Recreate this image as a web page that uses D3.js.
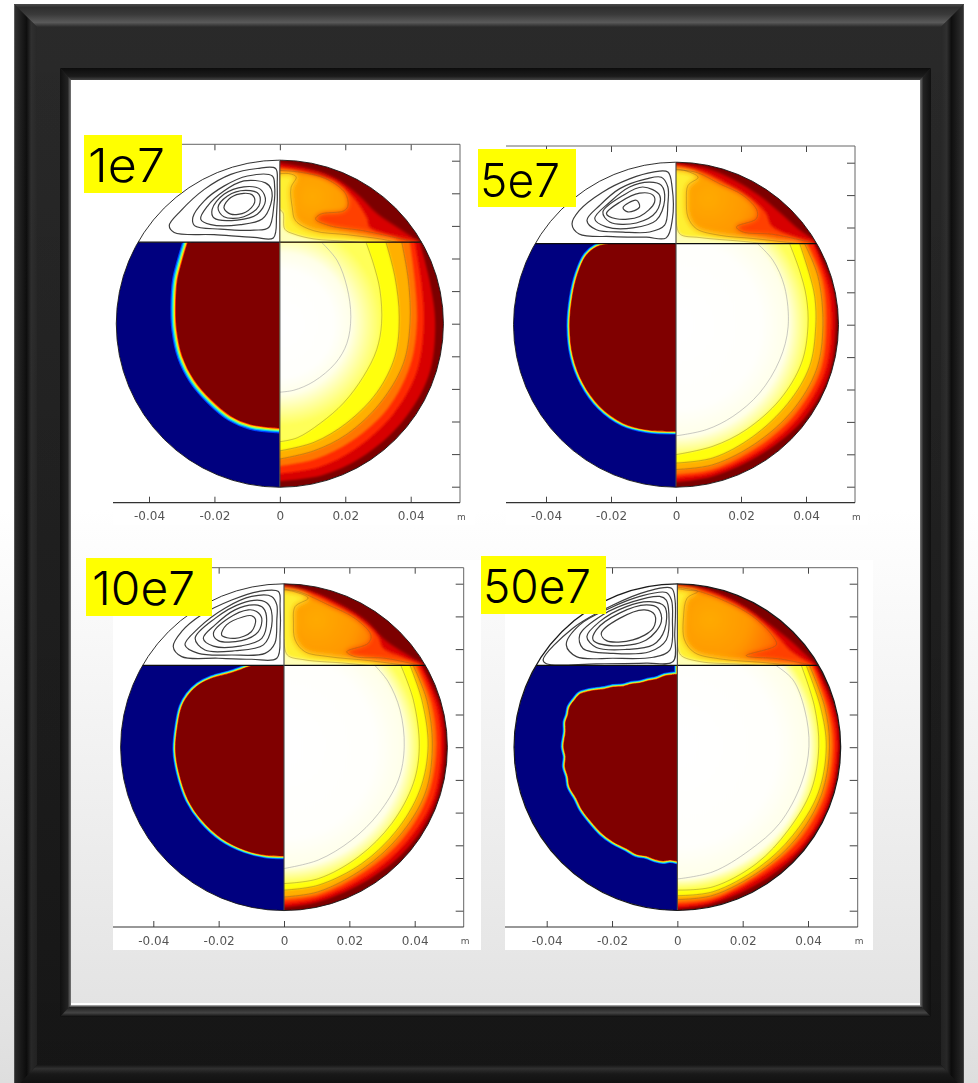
<!DOCTYPE html>
<html>
<head>
<meta charset="utf-8">
<script src="https://cdn.jsdelivr.net/npm/d3@7"></script>
<style>
html,body{margin:0;padding:0;background:#fff;overflow:hidden}
svg{display:block}
</style>
</head>
<body>
<script>
var panelNames = ["1e7","5e7","10e7","50e7"];
var xTicks = [-0.04,-0.02,0,0.02,0.04];
var xTickLabels = ["-0.04","-0.02","0","0.02","0.04"];
var yTicks = [-0.05,-0.04,-0.03,-0.02,-0.01,0,0.01,0.02,0.03,0.04,0.05];
var unitLabel = "m";

// melt front, left half
var front1e7 = [[-27.5,27],[-28.2,24.8],[-29.8,19.4],[-31.3,13.3],[-31.8,5.2],[-31.5,-1.9],[-29.8,-10],[-26.2,-17.2],[-21.1,-23.2],[-15,-28.3],[-8.9,-30.9],[0,-32]];
var front5e7 = [[-18,25.5],[-20.9,24.9],[-24.5,24],[-27.6,21.4],[-30.2,15.8],[-31.9,8.6],[-32.7,-0.6],[-31.7,-9.8],[-28.6,-18.1],[-23.5,-25.2],[-16.3,-30.4],[-9.1,-32.4],[0,-32.9]];
var front10e7 = [[-8,25.6],[-10.9,24.6],[-16,22.8],[-22.1,21.1],[-26.2,19],[-29.3,16],[-31.3,12.4],[-32.6,6.3],[-33.2,-0.9],[-32.1,-8],[-29.3,-16.2],[-25.2,-22.3],[-19.1,-27.9],[-11.9,-31.5],[-5.8,-33],[0,-33.3]];
var front50e7 = [[0,22.3],[-1.8,22.1],[-3.9,21.8],[-6.4,20.8],[-9,20.3],[-11.5,19.6],[-14.1,19.3],[-16.6,18.6],[-19.7,18.4],[-22.2,17.8],[-25.3,17.4],[-27.9,16.9],[-29.9,16.2],[-31.4,14.5],[-33,12.2],[-33.5,9.8],[-34.2,7.8],[-34.2,4.7],[-34.8,0.2],[-34.2,-2.9],[-34.4,-6],[-33.5,-9],[-33,-12.1],[-30.9,-15.7],[-29.4,-18.8],[-26.8,-22.3],[-23.3,-26.2],[-19.7,-28.9],[-15.6,-31],[-12.6,-32.7],[-9.5,-33.3],[-6.9,-34.3],[-4.4,-34.8],[-2.3,-34.5],[0,-34.9]];

// streamlines, upper left
var stream1e7 = [
 [[-1.3,47.6],[-6.9,47.6],[-15,45.8],[-23.1,41.2],[-30.3,34.6],[-33.8,30.1],[-32.3,28],[-20.1,27.3],[-7.9,26.5],[-2,26.3],[-1,33.6],[-0.8,42.7]],
 [[-2.3,45.3],[-9.9,45.3],[-17.1,42.2],[-23.1,37.7],[-26.6,32.6],[-26.1,30.1],[-18.1,29],[-7.9,28.7],[-3.4,29.5],[-1.8,36.6],[-1.6,42.2]],
 [[-4.4,43.2],[-11,43.8],[-17.1,40.7],[-22.1,36.1],[-24.2,32.1],[-21.1,30.4],[-12,30.4],[-5.4,32.1],[-2.8,36.6],[-2.6,41.2]],
 [[-11,42],[-17.1,39.7],[-20.7,35.1],[-20.1,32.4],[-13,31.8],[-6.9,33.6],[-4.4,37.7],[-5.9,41.2]],
 [[-10.5,40.9],[-16,39.2],[-18.9,35.6],[-17.1,32.8],[-11,32.8],[-6.4,36.1],[-6.4,39.7]],
 [[-11,40],[-15,38.7],[-17.1,35.6],[-15,33.6],[-10.5,34.2],[-7.7,37.2],[-8.4,39.5]]
];
var stream5e7 = [
 [[-2.5,47.1],[-7.1,47.1],[-14.3,45],[-22.6,40.9],[-29.8,35.2],[-32,31.1],[-29.8,28],[-19.4,27.2],[-9.1,27],[-3,26.8],[-1.1,32.7],[-1.2,42.4]],
 [[-4.5,45.5],[-9.1,45],[-17.3,42],[-23.5,36.8],[-27.4,32.2],[-24.5,29.3],[-16.3,28.6],[-8.1,28.6],[-3.5,30.7],[-2.5,37.3],[-2.5,42.5]],
 [[-8.1,44],[-14.3,42.5],[-20.4,37.8],[-25,32.7],[-21.4,30.2],[-13.2,29.9],[-6.1,32.2],[-3.5,38.4],[-4.5,43]],
 [[-10.2,42.5],[-16.3,39.9],[-22.5,34.8],[-20.4,31.7],[-12.2,31.4],[-6.1,34.8],[-5,39.9]],
 [[-11.2,40.6],[-17.3,37.8],[-21.4,34.3],[-18.4,32.7],[-11.2,33.4],[-6.6,37.8],[-7.1,40]],
 [[-12.2,38.4],[-16.3,36.1],[-14.8,34.8],[-11.2,36.3]]
];
var stream10e7 = [
 [[-1.7,47.6],[-7.9,47.6],[-16,45],[-25.2,40.5],[-31.3,35.4],[-33.9,30.8],[-31.3,27.7],[-20.1,27.2],[-9.9,26.9],[-2.2,27.2],[-1.2,34.8],[-1.2,43]],
 [[-3.8,46.1],[-9.9,46.1],[-18.1,42.5],[-26.2,36.4],[-30.3,31.3],[-26.2,28.7],[-16,28.2],[-5.8,28.7],[-2.8,31.8],[-2.2,38.9],[-2.2,43.5]],
 [[-6.8,44.8],[-13,44],[-21.1,39.4],[-27.2,33.3],[-24.2,29.7],[-15,29.5],[-6.3,31.3],[-3.8,36.9],[-4.3,43]],
 [[-8.9,43.5],[-15,42],[-21.1,37.4],[-24.7,33.3],[-21.6,30.9],[-13,31],[-6.8,33.3],[-5.3,38.9],[-6.3,42.5]],
 [[-10.9,42],[-17,39.4],[-21.6,34.8],[-20.1,32.6],[-13,32.6],[-7.9,35.3],[-6.8,39.4],[-8.4,41.5]],
 [[-12.4,39.9],[-17.6,37.4],[-19.1,34.3],[-15,33.3],[-10,35.3],[-8.7,39],[-9.9,40.2]]
];
var stream50e7 = [
 [[-1.8,48.6],[-9.5,47.6],[-19.7,43.5],[-32,36.4],[-41.1,26.7],[-40.1,25.5],[-24.8,25.5],[-9.5,25.7],[-1.3,26.2],[-0.8,34.8],[-0.7,45]],
 [[-3.4,47.3],[-11.5,46.1],[-20.7,42.5],[-29.9,37.4],[-34,31.3],[-30.9,27.7],[-19.7,27.2],[-7.4,27.5],[-2.3,29.7],[-1.5,38.9],[-1.8,45]],
 [[-5.4,46.1],[-13.6,44.5],[-22.8,40.5],[-29.9,34.3],[-28.9,30.2],[-19.7,28.7],[-8.5,29.2],[-3.4,32.8],[-2.6,41],[-3.4,45]],
 [[-8.5,44.5],[-15.6,43],[-23.8,38.4],[-27.7,33.8],[-24.8,30.5],[-15.6,29.9],[-7.4,31.3],[-3.9,35.9],[-3.9,43]],
 [[-9.5,43.5],[-17.7,41],[-24.8,35.9],[-25.8,32.8],[-19.7,31],[-9.5,32.8],[-4.9,38.4],[-5.9,42.5]],
 [[-10,42],[-17.7,39.4],[-23.3,34.8],[-21.7,32.6],[-13.6,32.8],[-7.4,36.4],[-6.9,40.4]]
];

// temperature levels above the line, upper right, hot wall first
var upper1e7 = [
 [[0,49.3],[8.3,47.7],[16.4,44.9],[23.6,39.8],[29.8,33.7],[35.9,29.6],[42,25.5]],
 [[0,48],[6,46.8],[12,45],[16.4,43.9],[22.5,38.7],[26.6,32.6],[27.6,29.5],[33.7,27],[40.8,25]],
 [[0,47],[6,46.5],[14,44.5],[20,40],[20.8,36.1],[19.5,34.6],[12.4,33.6],[10.9,32.1],[15.4,30],[25.6,28.5],[35.7,26.3],[42.8,24.8]],
 [[0,46],[3,46],[5,45],[3.4,41.7],[3.8,35.6],[4.8,31.6],[10.4,28.5],[20.5,27.3],[30.7,26],[35.7,25]],
 [[0,35],[1,34],[1.5,29],[4.3,27.5],[10.4,26],[20.5,25.3],[25.9,24.8]]
];
var upper5e7 = [
 [[0,49.8],[9.3,48.3],[17.5,44.9],[25.7,39.8],[31.9,34.7],[37,30.1],[42.7,26]],
 [[0,49.1],[8.3,47.1],[16.5,43],[23.7,38.4],[27.8,34.3],[29.3,30.7],[35,27.6],[41.1,25.5]],
 [[0,47.8],[6.3,47],[13.4,43.5],[20.6,39.9],[24.9,35.3],[24.7,32.7],[18.6,30.2],[20.6,28.6],[29.8,27.9],[42.2,25.2]],
 [[0,48],[3,47.5],[6.8,45.5],[3.7,43],[3.2,38.4],[3.7,33.2],[6.3,29.6],[13.4,27.6],[23.7,26.6],[38,25]],
 [[0,34.3],[1.1,28.1],[7.3,26.9],[19.6,25.8],[27.8,25]]
];
var upper10e7 = [
 [[0,49.5],[8.5,47.6],[16.6,44],[24.8,38.9],[30.9,32.8],[37,28.7],[43,25.2]],
 [[0,48.9],[8.5,47],[17.7,42.5],[24.8,37.9],[28.9,33.8],[30.4,30.3],[36,27.7],[41.6,25.2]],
 [[0,48.3],[4.4,47.6],[13.6,43.5],[21.7,39.4],[26.6,34.3],[25.8,31.8],[19.2,29.2],[21.7,27.7],[30.9,27.2],[42.1,24.9]],
 [[0,48.1],[3,47.6],[7.4,45.6],[3.4,43],[2.9,37.9],[3.4,32.8],[6.4,29.2],[13.6,27.7],[25.8,26.5],[39.1,24.8]],
 [[0,33],[1,28.2],[6.4,26.7],[18.7,25.7],[27.9,24.8]]
];
var upper50e7 = [
 [[0,49.7],[8.9,48.3],[18.1,44.5],[27.2,38.4],[34.4,32.8],[42.6,25.2]],
 [[0,49.3],[7.9,47.9],[18.1,43.5],[26.2,37.9],[31.3,33.3],[34.4,29.8],[41.5,25.2]],
 [[0,48.9],[5.8,47.9],[15,44.5],[23.2,39.9],[29.3,33.8],[30.3,31.3],[21.1,28],[31.3,27],[40.5,25.2]],
 [[0,48.5],[3,48],[6.3,47.6],[3,45.6],[1.9,40],[2.2,32.8],[5.3,28.9],[13,27],[26.2,25.9],[37.4,24.8]],
 [[0,32],[1,28.2],[6.8,26.2],[19.1,25.4],[29.3,24.8]]
];

// temperature levels below the line, lower right, hot wall first
var lower1e7 = [
 [[42.8,24.8],[45.8,13],[47.5,0],[45.5,-16],[37.5,-30],[25,-41],[13,-46.5],[0,-48.3]],
 [[41.3,24.8],[43.2,13],[44,0],[41.8,-15],[34.5,-28],[23,-38.5],[12,-44],[0,-46]],
 [[39.8,24.8],[41.3,13],[41.9,0],[39.8,-13],[33,-26],[22,-36],[11,-41.5],[0,-43.7]],
 [[37.3,24.8],[39.3,13.3],[39.8,0.1],[37.8,-12.1],[30.7,-24.3],[20.5,-33.9],[10.4,-39],[0,-41.5]],
 [[32.5,24.8],[35.2,14.3],[36.5,2.1],[35.2,-10],[29.6,-21.2],[20.5,-30.4],[10.4,-36.4],[0,-39]],
 [[26.4,24.8],[28.6,18.4],[30.6,10.3],[31.1,0.1],[29.6,-8],[25.6,-16.1],[19.5,-24.3],[12.4,-30.5],[5.3,-35],[0,-36.2]],
 [[12.9,24.8],[17.5,19.4],[20.5,11.3],[21.7,2.1],[20.5,-6],[17,-12.1],[10.4,-17.7],[4.3,-20.4],[0,-21]]
];
var lower5e7 = [
 [[42.7,24.9],[48.1,11.7],[49.1,-0.6],[46.8,-16],[39.1,-29.3],[26.8,-39.6],[11.4,-46.8],[0,-48.6]],
 [[42.2,24.9],[46.8,11.7],[47.8,-0.6],[45.7,-15],[38,-28.3],[26.3,-38.6],[11.4,-45.7],[0,-47.3]],
 [[40.6,24.9],[45.2,13.7],[46.3,-0.6],[44.4,-14.5],[37,-27.3],[25.7,-37.5],[11.4,-44.7],[0,-46.3]],
 [[39.6,24.9],[43.7,14.8],[45.2,-0.6],[43.2,-13.9],[36,-26.3],[24.7,-36.5],[11.4,-43.2],[0,-44.7]],
 [[38.1,24.9],[41,15.8],[42.7,8.6],[43,-0.6],[41.1,-12.9],[34.5,-24.2],[23.7,-34.5],[11.4,-41.1],[0,-42.7]],
 [[35,24.9],[38,16.8],[40.1,8.6],[40.6,-0.6],[38.6,-11.9],[31.9,-23.2],[21.6,-32.4],[11.4,-37.5],[0,-40.1]],
 [[25.2,24.9],[29.8,19.9],[33.4,11.7],[34.5,-0.6],[31.9,-10.9],[25.7,-21.1],[17.5,-28.3],[9.3,-32.4],[0,-34.3]]
];
var lower10e7 = [
 [[42.3,24.9],[47.8,12.4],[49.1,0.2],[46.7,-15.7],[38.6,-30],[26.3,-40.2],[10.5,-47.3],[0,-49]],
 [[41.6,24.9],[46.7,12.4],[48.1,0.2],[45.7,-15.7],[37.6,-28.9],[25.8,-39.1],[10.5,-46.3],[0,-48]],
 [[40.6,24.9],[45.2,13.4],[46.7,0.2],[44.2,-14.6],[36.5,-27.9],[24.8,-38.1],[10.5,-45.3],[0,-46.8]],
 [[39.6,24.9],[43.7,14.4],[45.4,0.2],[43.2,-14.1],[35.5,-26.9],[24.3,-37.1],[10.5,-44.2],[0,-45.8]],
 [[38.6,24.9],[42.2,14.4],[44.1,0.2],[41.6,-13.1],[34.5,-25.4],[23.8,-35.6],[10.5,-42.2],[0,-43.7]],
 [[35.8,24.9],[39.6,14.4],[41.4,0.2],[39.6,-11],[33,-23.3],[22.8,-33.5],[10.5,-40.2],[0,-41.7]],
 [[27.9,24.9],[31.9,20],[35.5,11.4],[36.8,0.2],[35,-10],[28.9,-20.3],[20.7,-28.4],[10.5,-34.5],[0,-37.1]]
];
var lower50e7 = [
 [[42.6,24.9],[48.2,11.4],[49.5,0.2],[46.8,-16.2],[39,-30],[27.2,-40.2],[10.9,-47.8],[0,-49.4]],
 [[42,24.9],[47.1,11.9],[48.7,0.2],[46.1,-15.7],[38.4,-29.4],[26.7,-39],[10.9,-47],[0,-48.6]],
 [[41.3,24.9],[46.1,11.9],[47.7,0.2],[45.1,-15.1],[37.4,-28.4],[26.2,-38.1],[10.9,-46.3],[0,-47.7]],
 [[40.5,24.9],[45.1,12.4],[46.6,0.2],[44.1,-14.6],[36.4,-27.9],[25.7,-37.6],[10.9,-45.3],[0,-46.6]],
 [[39.5,24.9],[43.8,12.4],[45.6,0.2],[43.1,-14.1],[35.4,-26.9],[25.2,-36.6],[10.9,-44.2],[0,-45.4]],
 [[38,24.9],[42,12.4],[43.3,0.2],[41,-13.1],[33.9,-25.4],[24.2,-35.6],[10.9,-42.7],[0,-43.7]],
 [[30.3,24.9],[35.4,20.6],[39,11.4],[40.3,0.2],[38,-11],[31.3,-23.3],[22.1,-31.5],[10.9,-38.1],[0,-40.3]]
];

var fronts = [front1e7,front5e7,front10e7,front50e7];
var streams = [stream1e7,stream5e7,stream10e7,stream50e7];
var uppers = [upper1e7,upper5e7,upper10e7,upper50e7];
var lowers = [lower1e7,lower5e7,lower10e7,lower50e7];

// colours of the fields
var solidColor = "#00007f", meltColor = "#800000", wallColor = "#7c0000";
var lowerColors = ["#d80000","#ff2c00","#ff7400","#ffb000","#ffff10"];
var lowerBlur = [0.9,0.8,0.8,0.8,0.8,1];
var upperColors = ["#d80000","#ff4000","#ff9800","#fff030","#ffffb8"];
var upperBlur = [1.5,1.8,2.6,3.2,1.5];
var frontColors = ["#0040ff","#00c0ff","#70ff90","#ffe000","#ff3000"];
var frontWidths = [9.5,7.5,5.5,3.5,1.5];
var frontScale = [1.15,0.7,0.65,0.65];

// layout of the four pictures, pixels
var pxXm04 = [149,546,153.3,546.7], pxXp04 = [410.7,806,414.7,808];
var pxYp05 = [160.7,162.7,583.7,583.7], pxYm05 = [486.7,486.7,910.7,910.7];
var boxLeft = [113,506,113,505], boxRight = [460,855,463.7,857.7];
var boxTop = [144.3,146,567.7,567.7], boxBottom = [502.7,502.7,927,927];
var sheetX = [113,506,113,505], sheetY = [135,135,560,560], sheetW = [362,362,368,368], sheetH = [390,390,390,390];
var tagX = [84,478,86,481], tagY = [135,149,558,556], tagW = [98,98,126,125], tagH = 58;
var tagTextX = [88,480,92,483], tagTextY = [182,197,605,603], tagTextW = [77,80,103,108];

var w = 978, h = 1083;
var svg = d3.select("body").append("svg").attr("width",w).attr("height",h);
var defs = svg.append("defs");

function gradient(id,x1,y1,x2,y2,stops){
    var g = defs.append("linearGradient").attr("id",id).attr("gradientUnits","userSpaceOnUse")
        .attr("x1",x1).attr("y1",y1).attr("x2",x2).attr("y2",y2);
    stops.forEach(function(s){
        g.append("stop").attr("offset",s[0]).attr("stop-color",s[1]).attr("stop-opacity",s.length>2?s[2]:1);
    });
}
function blurFilter(id,sd){
    defs.append("filter").attr("id",id).attr("x","-30%").attr("y","-30%").attr("width","160%").attr("height","160%")
        .append("feGaussianBlur").attr("stdDeviation",sd);
}
function poly(pts,fill){
    return svg.append("polygon").attr("points",pts.join(" ")).attr("fill",fill);
}

gradient("pageBg",0,0,0,1083,[[0,"#ffffff"],[0.47,"#ffffff"],[0.95,"#e2e2e2"],[1,"#dedede"]]);
gradient("frameBase",0,0,0,1083,[[0,"#2a2a2a"],[1,"#1a1a1a"]]);
gradient("bevelTop",0,4,0,27,[[0,"#4a4a4a"],[0.15,"#2e2e2e"],[0.45,"#3a3a3a"],[0.8,"#5a5a5a"],[1,"#2a2a2a"]]);
gradient("bevelLeft",14,0,37,0,[[0,"#777"],[0.06,"#2f2f2f"],[0.3,"#1e1e1e"],[0.55,"#0e0e0e"],[0.75,"#303030"],[1,"#282828"]]);
gradient("bevelRight",964,0,941,0,[[0,"#666"],[0.06,"#2f2f2f"],[0.3,"#1e1e1e"],[0.55,"#0e0e0e"],[0.75,"#303030"],[1,"#282828"]]);
gradient("bevelBottom",0,1065,0,1083,[[0,"#1c1c1c"],[0.2,"#3a3a3a"],[0.5,"#1e1e1e"],[1,"#141414"]]);
gradient("rabbetTop",0,68,0,80,[[0,"#0c0c0c"],[0.7,"#1c1c1c"],[1,"#444"]]);
gradient("rabbetLeft",60,0,71,0,[[0,"#101010"],[0.7,"#222"],[1,"#777"]]);
gradient("rabbetRight",931,0,920,0,[[0,"#101010"],[0.7,"#222"],[1,"#777"]]);
gradient("rabbetBottom",0,1017,0,1005,[[0,"#0c0c0c"],[0.35,"#444"],[0.8,"#222"],[1,"#bbb"]]);
gradient("frameShade",0,0,0,1083,[[0,"#000",0],[1,"#000",0.18]]);

// page and picture mat
svg.append("rect").attr("width",w).attr("height",h).attr("fill","url(#pageBg)");
svg.append("rect").attr("x",14).attr("y",4).attr("width",950).attr("height",1079).attr("fill","url(#frameBase)");
poly([[14,4],[964,4],[941,27],[37,27]],"url(#bevelTop)");
poly([[14,4],[37,27],[37,1065],[14,1090]],"url(#bevelLeft)");
poly([[964,4],[941,27],[941,1065],[964,1090]],"url(#bevelRight)");
poly([[14,1090],[37,1065],[941,1065],[964,1090]],"url(#bevelBottom)");
svg.append("path").attr("fill-rule","evenodd").attr("fill","url(#frameShade)")
    .attr("d","M14,4H964V1083H14ZM60,68V1017H931V68Z");
svg.append("rect").attr("x",71).attr("y",80).attr("width",849).attr("height",925).attr("fill","url(#pageBg)");
poly([[60,68],[931,68],[920,80],[71,80]],"url(#rabbetTop)");
poly([[60,68],[71,80],[71,1005],[60,1017]],"url(#rabbetLeft)");
poly([[931,68],[920,80],[920,1005],[931,1017]],"url(#rabbetRight)");
poly([[60,1017],[71,1005],[920,1005],[931,1017]],"url(#rabbetBottom)");
svg.append("rect").attr("x",71).attr("y",1003).attr("width",849).attr("height",2).attr("fill","#fff");

lowerBlur.forEach(function(sd,i){ blurFilter("lb"+i,sd); });
upperBlur.forEach(function(sd,i){ blurFilter("ub"+i,sd); });
blurFilter("soft",0.45);

panelNames.forEach(function(name,p){
    var x = d3.scaleLinear().domain([-0.04,0.04]).range([pxXm04[p],pxXp04[p]]);
    var y = d3.scaleLinear().domain([-0.05,0.05]).range([pxYm05[p],pxYp05[p]]);
    var mmX = function(d){ return x(d[0]/1000); };
    var mmY = function(d){ return y(d[1]/1000); };
    var open = d3.line().x(mmX).y(mmY).curve(d3.curveCatmullRom.alpha(0.5));
    var closed = d3.line().x(mmX).y(mmY).curve(d3.curveCatmullRomClosed.alpha(0.5));
    var xm = function(v){ return x(v/1000); }, ym = function(v){ return y(v/1000); };
    var lineY = 25; // mm, the lid between air and water

    svg.append("rect").attr("x",sheetX[p]).attr("y",sheetY[p]).attr("width",sheetW[p]).attr("height",sheetH[p]).attr("fill","#fff");

    var rx = (x(0.05)-x(-0.05))/2;

    // clip: disk, then one quadrant rectangle each
    defs.append("clipPath").attr("id","disk"+p).append("circle").attr("cx",x(0)).attr("cy",y(0)).attr("r",rx);
    defs.append("clipPath").attr("id","lr"+p).append("rect").attr("x",x(0)).attr("y",ym(lineY)).attr("width",rx+2).attr("height",y(-0.05)-ym(lineY)+2);
    defs.append("clipPath").attr("id","ur"+p).append("rect").attr("x",x(0)).attr("y",y(0.05)-2).attr("width",rx+2).attr("height",ym(lineY)-y(0.05)+2);
    defs.append("clipPath").attr("id","ll"+p).append("rect").attr("x",x(-0.05)-2).attr("y",ym(lineY)).attr("width",rx+2).attr("height",y(-0.05)-ym(lineY)+2);

    // white to pale yellow shading of the cold core, out to the sixth level
    var outerLevel = lowers[p][5], innerLevel = lowers[p][6];
    var outerR = d3.max(outerLevel,function(d){return d[0];}), innerR = d3.max(innerLevel,function(d){return d[0];});
    var core = defs.append("radialGradient").attr("id","core"+p).attr("gradientUnits","userSpaceOnUse")
        .attr("cx",x(0)).attr("cy",y(0)).attr("r",xm(outerR)-x(0));
    core.append("stop").attr("offset",0).attr("stop-color","#ffffff");
    core.append("stop").attr("offset",innerR/outerR*0.75).attr("stop-color","#fffffc");
    core.append("stop").attr("offset",innerR/outerR).attr("stop-color","#ffffe8");
    core.append("stop").attr("offset",1).attr("stop-color","#ffff58");

    // orange plateau of the upper right part
    var blob = defs.append("radialGradient").attr("id","blob"+p).attr("gradientUnits","userSpaceOnUse")
        .attr("cx",xm(10)).attr("cy",ym(39)).attr("r",xm(24)-x(0));
    blob.append("stop").attr("offset",0).attr("stop-color","#ffaa00");
    blob.append("stop").attr("offset",0.5).attr("stop-color","#ff9800");
    blob.append("stop").attr("offset",1).attr("stop-color","#ff5c00");

    var g = svg.append("g").attr("filter","url(#soft)");
    var disk = g.append("g").attr("clip-path","url(#disk"+p+")");

    // lower left: solid and melt
    var ll = disk.append("g").attr("clip-path","url(#ll"+p+")");
    ll.append("rect").attr("x",x(-0.05)-2).attr("y",y(0.05)-2).attr("width",2*rx+4).attr("height",2*rx+4).attr("fill",solidColor);
    var front = fronts[p];
    var first = front[0], last = front[front.length-1];
    var frontD = open(front)+"L"+xm(10)+","+ym(last[1])+"L"+xm(10)+","+ym(first[1]+12)+"L"+xm(first[0])+","+ym(first[1]+12)+"Z";
    frontColors.forEach(function(c,i){
        ll.append("path").attr("d",frontD).attr("fill","none").attr("stroke",c)
            .attr("stroke-width",frontWidths[i]*frontScale[p]).attr("stroke-linejoin","round");
    });
    ll.append("path").attr("d",frontD).attr("fill",meltColor);

    // lower right temperature
    var lr = disk.append("g").attr("clip-path","url(#lr"+p+")");
    lr.append("rect").attr("x",x(0)).attr("y",ym(lineY)).attr("width",rx+2).attr("height",2*rx).attr("fill",wallColor);
    lowers[p].forEach(function(curve,i){
        if(i>5) return;
        var a = curve[0], b = curve[curve.length-1];
        lr.append("path").attr("d",open(curve)+"L"+xm(-15)+","+ym(b[1])+"L"+xm(-15)+","+ym(45)+"L"+xm(a[0])+","+ym(45)+"Z")
            .attr("fill",i==5?"url(#core"+p+")":lowerColors[i]).attr("filter","url(#lb"+i+")");
    });
    lowers[p].forEach(function(curve,i){
        if(i<3) return;
        lr.append("path").attr("d",open(curve)).attr("fill","none")
            .attr("stroke",i==6?"#aaa":"#7a6a30").attr("stroke-opacity",i==6?0.8:0.5).attr("stroke-width",0.8);
    });

    // upper right temperature
    var ur = disk.append("g").attr("clip-path","url(#ur"+p+")");
    ur.append("rect").attr("x",x(0)).attr("y",y(0.05)-2).attr("width",rx+2).attr("height",rx).attr("fill",wallColor);
    uppers[p].forEach(function(curve,i){
        var a = curve[0], b = curve[curve.length-1];
        ur.append("path").attr("d",open(curve)+"L"+xm(b[0])+","+ym(10)+"L"+xm(-15)+","+ym(10)+"L"+xm(-15)+","+ym(a[1])+"Z")
            .attr("fill",i==2?"url(#blob"+p+")":upperColors[i]).attr("filter","url(#ub"+i+")");
    });
    uppers[p].forEach(function(curve,i){
        if(i<2) return;
        ur.append("path").attr("d",open(curve)).attr("fill","none").attr("stroke","#7a5a20").attr("stroke-opacity",0.45).attr("stroke-width",0.8);
    });

    // streamlines
    streams[p].forEach(function(curve){
        disk.append("path").attr("d",closed(curve)).attr("fill","none").attr("stroke","#3c3c3c").attr("stroke-width",1.2);
    });

    // wall, lid and axis lines
    var lidHalf = Math.sqrt(50*50-lineY*lineY);
    g.append("line").attr("x1",xm(-lidHalf)).attr("x2",xm(lidHalf)).attr("y1",ym(lineY)).attr("y2",ym(lineY)).attr("stroke","#111").attr("stroke-width",1.3);
    g.append("line").attr("x1",x(0)).attr("x2",x(0)).attr("y1",y(0.05)).attr("y2",y(-0.05)).attr("stroke","#444").attr("stroke-width",1.1);
    g.append("circle").attr("cx",x(0)).attr("cy",y(0)).attr("r",rx).attr("fill","none").attr("stroke","#1a1a1a").attr("stroke-width",p==3?1.2:0.9);

    // axes
    var axes = svg.append("g").attr("filter","url(#soft)");
    var bottom = axes.append("g").attr("transform","translate(0,"+boxBottom[p]+")")
        .call(d3.axisBottom(x).tickValues(xTicks).tickSizeInner(-6).tickSizeOuter(0).tickPadding(9)
            .tickFormat(function(d,i){ return xTickLabels[i]; }));
    var top = axes.append("g").attr("transform","translate(0,"+boxTop[p]+")")
        .call(d3.axisTop(x).tickValues(xTicks).tickSizeInner(-6).tickSizeOuter(0).tickFormat(""));
    var right = axes.append("g").attr("transform","translate("+boxRight[p]+",0)")
        .call(d3.axisRight(y).tickValues(yTicks).tickSizeInner(-8).tickSizeOuter(0).tickFormat(""));
    [bottom,top,right].forEach(function(a){
        a.select(".domain").remove();
        a.selectAll("line").attr("stroke","#444").attr("stroke-width",1);
    });
    bottom.selectAll("text").attr("font-family","'DejaVu Sans',sans-serif").attr("font-size",12).attr("fill","#555");
    axes.append("path").attr("fill","none").attr("stroke","#666").attr("stroke-width",1)
        .attr("d","M"+boxLeft[p]+","+boxTop[p]+"H"+boxRight[p]+"V"+boxBottom[p]);
    axes.append("line").attr("x1",boxLeft[p]).attr("x2",boxRight[p]).attr("y1",boxBottom[p]).attr("y2",boxBottom[p]).attr("stroke","#333").attr("stroke-width",1.2);
    axes.append("text").attr("x",boxRight[p]-3).attr("y",boxBottom[p]+17).attr("font-family","'DejaVu Sans',sans-serif").attr("font-size",9).attr("fill","#555").text(unitLabel);

    // yellow tag
    svg.append("rect").attr("x",tagX[p]).attr("y",tagY[p]).attr("width",tagW[p]).attr("height",tagH).attr("fill","#ffff00");
    svg.append("text").attr("x",tagTextX[p]).attr("y",tagTextY[p]).attr("font-family","Inter,Lato,sans-serif").attr("font-weight",300).attr("font-size",47)
        .attr("textLength",tagTextW[p]).attr("lengthAdjust","spacingAndGlyphs").attr("fill","#000").text(name);
});
</script>
</body>
</html>
